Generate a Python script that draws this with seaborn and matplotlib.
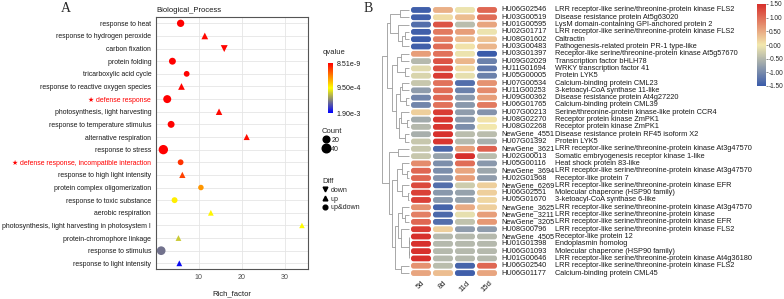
import numpy as np
import pandas as pd
import matplotlib
matplotlib.use("Agg")
import matplotlib.pyplot as plt
import seaborn as sns
from matplotlib.colors import LinearSegmentedColormap, Normalize
from matplotlib.cm import ScalarMappable
from matplotlib.lines import Line2D
from matplotlib.patches import FancyBboxPatch

# ---------------- Panel A data ----------------
terms = ["response to heat", "response to hydrogen peroxide", "carbon fixation",
         "protein folding", "tricarboxylic acid cycle",
         "response to reactive oxygen species", "defense response",
         "photosynthesis, light harvesting", "response to temperature stimulus",
         "alternative respiration", "response to stress",
         "defense response, incompatible interaction",
         "response to high light intensity", "protein complex oligomerization",
         "response to toxic substance", "aerobic respiration",
         "photosynthesis, light harvesting in photosystem I",
         "protein-chromophore linkage", "response to stimulus",
         "response to light intensity"]
rich_factor = [5.8, 11.4, 15.9, 3.9, 7.2, 6.0, 2.7, 14.7, 3.6, 21.1,
               1.8, 5.8, 6.2, 10.5, 4.4, 12.8, 33.9, 5.3, 1.3, 5.5]
qvalue = [2e-6, 3e-5, 2e-5, 5e-6, 1e-5, 2e-5, 8.51e-9, 3e-5, 1e-5, 5e-5,
          1e-7, 1.9e-4, 2.5e-4, 5.6e-4, 8.9e-4, 9.2e-4, 9.4e-4, 1.15e-3,
          1.47e-3, 1.85e-3]
count = [26, 20, 22, 22, 12, 20, 33, 18, 22, 15, 49, 12, 16, 10, 13, 12,
         10, 12, 41, 12]
diff = ["up&down", "up", "down", "up&down", "up&down", "up", "up&down", "up",
        "up&down", "up", "up&down", "up&down", "up", "up&down", "up&down",
        "up", "up", "up", "up&down", "up"]
highlight = ["defense response", "defense response, incompatible interaction"]
q_ticks = [8.51e-9, 9.50e-4, 1.90e-3]
q_tick_labels = ["8.51e-9", "9.50e-4", "1.90e-3"]
x_ticks = [10, 20, 30]

# ---------------- Panel B data ----------------
gene_ids = ["HU06G02546", "HU03G00519", "HU01G00595", "HU02G01717", "HU08G01602",
            "HU03G00483", "HU03G01397", "HU09G02029", "HU11G01694", "HU05G00005",
            "HU07G00534", "HU11G00253", "HU09G00362", "HU06G01765", "HU07G00213",
            "HU08G02270", "HU08G02268", "NewGene_4551", "HU07G01392", "NewGene_3621",
            "HU02G00013", "HU05G00116", "NewGene_3694", "HU02G01968", "NewGene_6269",
            "HU06G02551", "HU05G01670", "NewGene_3625", "NewGene_3211", "NewGene_3205",
            "HU08G00796", "NewGene_4505", "HU01G01398", "HU06G01093", "HU01G00646",
            "HU06G02540", "HU06G01177"]
gene_desc = ["LRR receptor-like serine/threonine-protein kinase FLS2",
             "Disease resistance protein At5g63020",
             "LysM domain-containing GPI-anchored protein 2",
             "LRR receptor-like serine/threonine-protein kinase FLS2",
             "Caltractin",
             "Pathogenesis-related protein PR-1 type-like",
             "Receptor-like serine/threonine-protein kinase At5g57670",
             "Transcription factor bHLH78",
             "WRKY transcription factor 41",
             "Protein LYK5",
             "Calcium-binding protein CML23",
             "3-ketoacyl-CoA synthase 11-like",
             "Disease resistance protein At4g27220",
             "Calcium-binding protein CML39",
             "Serine/threonine-protein kinase-like protein CCR4",
             "Receptor protein kinase ZmPK1",
             "Receptor protein kinase ZmPK1",
             "Disease resistance protein RF45 isoform X2",
             "Protein LYK5",
             "LRR receptor-like serine/threonine-protein kinase At3g47570",
             "Somatic embryogenesis receptor kinase 1-like",
             "Heat shock protein 83-like",
             "LRR receptor-like serine/threonine-protein kinase At3g47570",
             "Receptor-like protein 7",
             "LRR receptor-like serine/threonine-protein kinase EFR",
             "Molecular chaperone (HSP90 family)",
             "3-ketoacyl-CoA synthase 6-like",
             "LRR receptor-like serine/threonine-protein kinase At3g47570",
             "LRR receptor-like serine/threonine-protein kinase",
             "LRR receptor-like serine/threonine-protein kinase EFR",
             "LRR receptor-like serine/threonine-protein kinase FLS2",
             "Receptor-like protein 12",
             "Endoplasmin homolog",
             "Molecular chaperone (HSP90 family)",
             "LRR receptor-like serine/threonine-protein kinase At4g36180",
             "LRR receptor-like serine/threonine-protein kinase FLS2",
             "Calcium-binding protein CML45"]
days = ["5d", "8d", "11d", "15d"]
z_5d = [-1.45, -1.45, -1.3, -1.45, -1.5, -1.45, 0.6, -0.5, -0.15, -0.2,
        -0.35, -0.8, -1.05, -1.05, 0.2, -0.65, -0.5, -0.6, -0.35, -0.35,
        -0.35, 0.75, 1.05, 1.05, 1.3, 1.35, 1.35, 0.7, 0.85, 1.05,
        1.4, 1.5, 1.5, 1.5, 1.5, 0.7, 0.55]
z_8d = [0.45, 0.1, 1.2, 0.9, 0.85, 1.0, 0.95, 1.2, 1.25, 1.4,
        0.95, 1.0, 1.05, 0.95, 1.4, 1.45, 1.45, 1.5, 1.45, -1.35,
        -0.75, -0.95, -0.95, -0.9, -1.3, -0.85, -0.85, -1.4, -1.35, -1.3,
        0.2, -0.5, -0.5, -0.5, -0.5, -0.45, 0.35]
z_11d = [-0.05, 0.35, -0.45, 0.6, 0.35, 0.05, -0.05, 0.4, 0.1, -0.1,
         -1.3, -1.1, -0.85, -0.85, -0.8, -0.85, -0.95, -0.45, -0.5, 0.6,
         1.5, 1.0, 0.55, 0.6, -0.3, -0.75, -0.75, 0.5, -0.1, -0.4,
         -0.8, -0.5, -0.5, -0.5, -0.5, -1.4, -1.45]
z_15d = [1.05, 1.0, 0.55, -0.05, 0.3, 0.4, -1.5, -1.1, -1.2, -1.1,
         0.7, 0.75, 0.6, 0.9, -0.9, 0.05, 0.0, -0.45, -0.6, 1.1,
         -0.45, -0.85, -0.7, -0.8, 0.2, 0.2, 0.15, 0.2, 0.6, 0.65,
         -0.8, -0.5, -0.5, -0.5, -0.5, 1.05, 0.55]
z_ticks = [-1.5, -1.0, -0.5, 0.0, 0.5, 1.0, 1.5]

# row dendrogram (leaf = row number, node = (left, right, height))
row_tree = (
    (((1, 2, 0.35), (3, ((4, 5, 0.15), 6, 0.25), 0.4), 0.72),
     (((7, 8, 0.3), (9, 10, 0.15), 0.45),
      (((11, 12, 0.25), (13, 14, 0.12), 0.35),
       ((15, (16, 17, 0.08), 0.3), (18, 19, 0.15), 0.38), 0.5), 0.62), 0.82),
    ((20, 21, 0.4),
     (((22, (23, 24, 0.08), 0.25), (25, (26, 27, 0.04), 0.25), 0.45),
      (((28, (29, 30, 0.15), 0.25),
        (31, ((32, 33, 0.01), (34, 35, 0.01), 0.02), 0.3), 0.42),
       (36, 37, 0.3), 0.52), 0.62), 0.75),
    1.0)

# ---------------- Figure ----------------
sns.set_style("white")
plt.rcParams["font.family"] = ["Liberation Sans", "DejaVu Sans"]
plt.rcParams["axes.unicode_minus"] = False

W, H = 784, 299
fig = plt.figure(figsize=(W / 100, H / 100), dpi=100)


def fx(px):
    return px / W


def fy(py):
    return 1 - py / H


# ----- Panel A -----
axA = fig.add_axes([fx(156), fy(269), fx(308) - fx(156), fy(17) - fy(269)])
dfA = pd.DataFrame({"term": terms, "Rich_factor": rich_factor, "qvalue": qvalue,
                    "Count": count, "Diff": diff})
qcmap = LinearSegmentedColormap.from_list("q", ["#FF0000", "#FFFF00", "#0000FF"])
qnorm = Normalize(q_ticks[0], q_ticks[-1])
size_range = (12, 46)
size_norm = (5, 50)
sns.scatterplot(data=dfA, x="Rich_factor", y="term", hue="qvalue", palette=qcmap,
                hue_norm=qnorm, size="Count", sizes=size_range, size_norm=size_norm,
                style="Diff", markers={"down": "v", "up": "^", "up&down": "o"},
                linewidth=0, legend=False, ax=axA, zorder=3)
axA.set_xlim(0.1, 35.3)
axA.set_ylim(len(terms) - 0.55, -0.5)
axA.set_xticks(x_ticks)
axA.set_yticks(range(len(terms)))
axA.set_yticklabels([("★ " + t) if t in highlight else t for t in terms])
for lab in axA.get_yticklabels():
    if lab.get_text().startswith("★"):
        lab.set_color("#FF0000")
    else:
        lab.set_color("#1A1A1A")
axA.grid(True, color="#E5E5E5", lw=0.6)
axA.set_axisbelow(True)
for s in axA.spines.values():
    s.set_color("#555555")
    s.set_linewidth(0.8)
axA.tick_params(axis="both", labelsize=4.95, length=2, width=0.5, color="#555555",
                pad=1.5)
axA.tick_params(axis="x", labelcolor="#4D4D4D", labelsize=5.1)
axA.set_ylabel("")
axA.set_xlabel("Rich_factor", fontsize=5.5, color="#1A1A1A")
axA.xaxis.set_label_coords(0.5, -(294 - 269) / 252)
axA.xaxis.label.set_va("center")
fig.text(fx(156), fy(10), "Biological_Process", fontsize=5.5, va="center",
         ha="left", color="#1A1A1A")

# qvalue colorbar
caxQ = fig.add_axes([fx(328), fy(113), fx(333) - fx(328), fy(63) - fy(113)])
cbQ = fig.colorbar(ScalarMappable(norm=qnorm, cmap=qcmap), cax=caxQ)
cbQ.ax.invert_yaxis()
cbQ.set_ticks(q_ticks)
cbQ.set_ticklabels(q_tick_labels)
cbQ.outline.set_visible(False)
cbQ.ax.tick_params(length=0, labelsize=5.1, pad=2.5, labelcolor="#1A1A1A")
fig.text(fx(323), fy(52), "qvalue", fontsize=5.5, va="center", ha="left")


def msize(c):
    lo, hi = size_norm
    return np.sqrt(size_range[0] + (c - lo) / (hi - lo) * (size_range[1] - size_range[0]))


count_handles = [Line2D([], [], marker="o", ls="", color="black", markersize=msize(c))
                 for c in (20, 40)]
legC = fig.legend(count_handles, ["20", "40"], title="Count", loc="upper left",
                  bbox_to_anchor=(fx(322), fy(128)), frameon=False, fontsize=5.1,
                  title_fontsize=5.5, handlelength=1.0, handletextpad=0.3,
                  labelspacing=0.25, borderpad=0, borderaxespad=0, alignment="left")
diff_handles = [Line2D([], [], marker=m, ls="", color="black", markersize=3.4)
                for m in ("v", "^", "o")]
legD = fig.legend(diff_handles, ["down", "up", "up&down"], title="Diff",
                  loc="upper left", bbox_to_anchor=(fx(322), fy(178)), frameon=False,
                  fontsize=5.1, title_fontsize=5.5, handlelength=0.9,
                  handletextpad=0.3, labelspacing=0.25, borderpad=0,
                  borderaxespad=0, alignment="left")

# ----- Panel B -----
hm_left, hm_right, hm_top, hm_bot = 410, 498, 6.3, 276.7
axH = fig.add_axes([fx(hm_left), fy(hm_bot), fx(hm_right) - fx(hm_left),
                    fy(hm_top) - fy(hm_bot)])
caxH = fig.add_axes([fx(757), fy(86), fx(766) - fx(757), fy(4) - fy(86)])
dfB = pd.DataFrame(dict(zip(days, [z_5d, z_8d, z_11d, z_15d])), index=gene_ids)
hcmap = LinearSegmentedColormap.from_list("h", ["#3A5BAA", "#F2E8AE", "#D7302C"])
hnorm = Normalize(-1.5, 1.5)
sns.heatmap(dfB, cmap=hcmap, vmin=-1.5, vmax=1.5, ax=axH, cbar_ax=caxH,
            xticklabels=True, yticklabels=False)
axH.collections[0].set_visible(False)
nrow, ncol = dfB.shape
px_x = (hm_right - hm_left) / ncol
px_y = (hm_bot - hm_top) / nrow
pad_x, pad_y = 1.0 / px_x, 0.75 / px_y
for i in range(nrow):
    for j in range(ncol):
        v = dfB.iat[i, j]
        axH.add_patch(FancyBboxPatch(
            (j + pad_x, i + pad_y), 1 - 2 * pad_x, 1 - 2 * pad_y,
            boxstyle="round,pad=0,rounding_size=%f" % (2.6 / px_x),
            mutation_aspect=px_x / px_y, facecolor=hcmap(hnorm(v)),
            edgecolor="none"))
axH.set_xticklabels(days, rotation=45, ha="center", va="top", fontsize=5.5,
                    color="#1A1A1A")
axH.tick_params(axis="x", length=0, pad=2)
axH.set_yticks([])
axH.set_xlabel("")
axH.set_ylabel("")
for i, (gid, desc) in enumerate(zip(gene_ids, gene_desc)):
    axH.text(ncol + (501 - hm_right) / px_x, i + 0.5, gid, fontsize=5.3,
             va="center", ha="left", color="#1A1A1A", clip_on=False)
    axH.text(ncol + (555 - hm_right) / px_x, i + 0.5, desc, fontsize=5.3,
             va="center", ha="left", color="#1A1A1A", clip_on=False)

cbH = axH.collections[0].colorbar
cbH.set_ticks(z_ticks)
cbH.set_ticklabels(["%.2f" % t for t in z_ticks])
cbH.outline.set_visible(False)
cbH.ax.tick_params(labelsize=4.7, length=1.5, width=0.4, pad=0.8, color="#333333")

# dendrogram
axD = fig.add_axes([fx(382), fy(hm_bot), fx(410) - fx(382), fy(hm_top) - fy(hm_bot)])
axD.set_ylim(nrow, 0)
axD.set_xlim(1.0, -0.03)
axD.axis("off")


def draw_tree(node):
    if isinstance(node, int):
        return node - 0.5, 0.0
    left, right, h = node
    yl, hl = draw_tree(left)
    yr, hr = draw_tree(right)
    axD.plot([hl, h, h, hr], [yl, yl, yr, yr], color="#9A9A9A", lw=0.6,
             solid_capstyle="butt")
    return (yl + yr) / 2, h


draw_tree(row_tree)

# panel letters
fig.text(fx(66), fy(8), "A", fontsize=10, family="Liberation Serif",
         ha="center", va="center")
fig.text(fx(368), fy(8), "B", fontsize=10, family="Liberation Serif",
         ha="center", va="center")

fig.savefig("out.png", dpi=100)
